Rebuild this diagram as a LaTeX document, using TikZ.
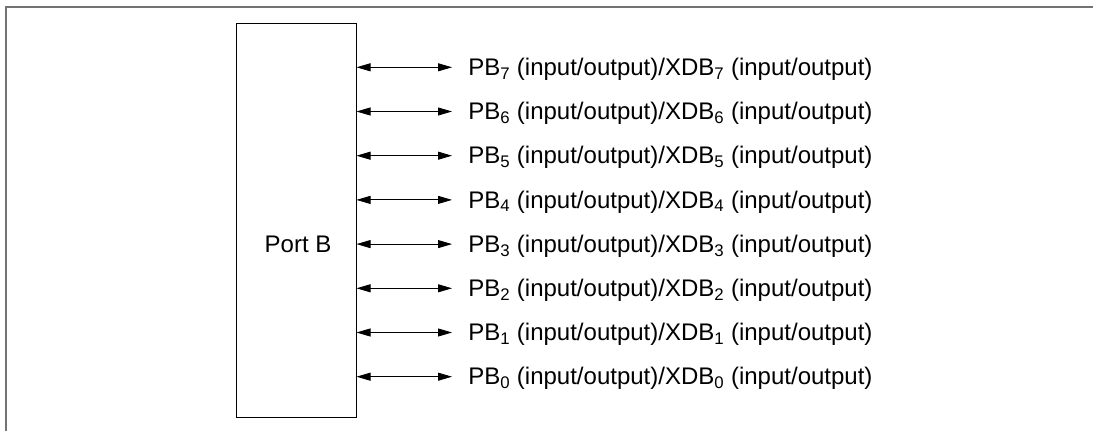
\documentclass[tikz,border=0pt]{standalone}
\usepackage{fontspec}
\setmainfont{Liberation Sans}
\usetikzlibrary{arrows.meta}
\tikzset{
  portbox/.style={draw, line width=0.75pt, minimum width=90.4pt, minimum height=294.75pt, inner sep=0pt},
  bidir/.style={{Triangle[length=10.5pt,width=6pt]}-{Triangle[length=10.5pt,width=6pt]}, line width=0.6pt},
  pinlabel/.style={anchor=west, inner sep=0pt}
}
\begin{document}
\begin{tikzpicture}[x=0.75pt, y=-0.75pt, font=\fontsize{18}{21}\selectfont]
  \useasboundingbox (0,0) rectangle (1093,431);
  % frame (only top and left edges show)
  \draw[gray!90!black, line width=1.5pt] (1093,7) -- (6,7) -- (6,431);
  % port block
  \node[portbox] (portb) at (296.5,220.5) {};
  \node (portname) at (298,244) {Port B};
  % pins
  \foreach \k [evaluate=\k as \yy using 67.3+(7-\k)*44.2] in {7,6,...,0} {
    \coordinate (pin\k) at (356.5,\yy);
    \coordinate (tip\k) at (452,\yy);
    \node[pinlabel] (lbl\k) at (468,\yy+2) {PB\textsubscript{\k} (input/output)/XDB\textsubscript{\k} (input/output)};
    \draw[bidir] (pin\k) -- (tip\k);
  }
\end{tikzpicture}
\end{document}
